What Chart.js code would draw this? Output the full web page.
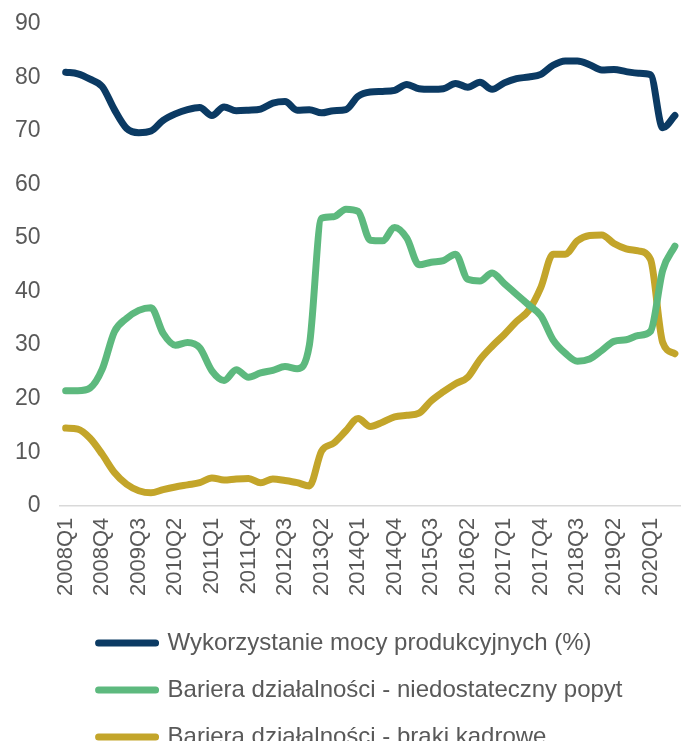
<!DOCTYPE html>
<html>
<head>
<meta charset="utf-8">
<script src="https://cdn.jsdelivr.net/npm/chart.js@4"></script>
<style>
  html, body { margin: 0; padding: 0; background: #fff; }
  #wrap { width: 681px; height: 741px; }
</style>
</head>
<body>
<div id="wrap"><canvas id="my-chart"></canvas></div>
<script>
const quarters = [
  '2008Q1','2008Q2','2008Q3','2008Q4','2009Q1','2009Q2','2009Q3','2009Q4',
  '2010Q1','2010Q2','2010Q3','2010Q4','2011Q1','2011Q2','2011Q3','2011Q4',
  '2012Q1','2012Q2','2012Q3','2012Q4','2013Q1','2013Q2','2013Q3','2013Q4',
  '2014Q1','2014Q2','2014Q3','2014Q4','2015Q1','2015Q2','2015Q3','2015Q4',
  '2016Q1','2016Q2','2016Q3','2016Q4','2017Q1','2017Q2','2017Q3','2017Q4',
  '2018Q1','2018Q2','2018Q3','2018Q4','2019Q1','2019Q2','2019Q3','2019Q4',
  '2020Q1','2020Q2','2020Q3'
];

// capacity utilisation (%)
const capacity = [
  81.0, 80.7, 79.7, 78.3, 74.0, 70.5, 69.7, 70.0,
  72.0, 73.2, 74.0, 74.4, 72.9, 74.5, 73.8, 73.9,
  74.1, 75.2, 75.5, 73.9, 74.0, 73.4, 73.8, 74.0,
  76.5, 77.3, 77.4, 77.6, 78.7, 77.9, 77.8, 77.9,
  78.9, 78.2, 79.1, 77.8, 79.0, 79.8, 80.1, 80.6,
  82.3, 83.1, 83.1, 82.4, 81.4, 81.5, 81.1, 80.8,
  80.5, 70.6, 72.9
];

// barrier: insufficient demand
const lowDemand = [
  21.5, 21.5, 22.0, 25.5, 32.5, 35.0, 36.5, 37.0,
  32.2, 30.0, 30.5, 29.5, 25.2, 23.4, 25.4, 24.0,
  24.8, 25.3, 26.0, 25.6, 30.0, 53.7, 54.0, 55.4,
  55.0, 49.6, 49.5, 52.0, 50.0, 45.0, 45.5, 45.8,
  47.0, 42.3, 42.0, 43.5, 41.5, 39.5, 37.5, 35.5,
  31.0, 28.5, 27.0, 27.4, 29.0, 30.7, 31.0, 31.8,
  32.6, 44.0, 48.5
];

// barrier: staff shortages
const staffShortage = [
  14.5, 14.3, 12.6, 9.6, 6.2, 4.0, 2.8, 2.4,
  3.0, 3.5, 3.9, 4.3, 5.2, 4.8, 5.0, 5.1,
  4.3, 5.0, 4.7, 4.3, 3.7, 10.2, 11.7, 14.0,
  16.3, 14.8, 15.6, 16.6, 16.9, 17.3, 19.6, 21.3,
  22.8, 24.0, 27.3, 29.8, 32.0, 34.4, 36.5, 40.8,
  47.0, 47.0, 49.5, 50.5, 50.6, 49.0, 48.0, 47.6,
  46.0, 30.5, 28.4
];

const seriesNames = [
  'Wykorzystanie mocy produkcyjnych (%)',
  'Bariera działalności - niedostateczny popyt',
  'Bariera działalności - braki kadrowe'
];
const seriesColors = ['#0B3A63', '#5DB97E', '#C3A52A'];

// nudge legend rows to the right, like the original
const legendShift = {
  id: 'legendShift',
  afterLayout(chart) {
    chart.legend.left += 16;
    chart.legend.right += 16;
  }
};

let ctx = document.querySelector('#my-chart').getContext('2d');
let myChart = new Chart(ctx, {
  type: 'line',
  data: {
    labels: quarters,
    datasets: [capacity, lowDemand, staffShortage].map((values, i) => ({
      label: seriesNames[i],
      data: values,
      borderColor: seriesColors[i],
      backgroundColor: seriesColors[i]
    }))
  },
  options: {
    responsive: true,
    maintainAspectRatio: false,
    animation: false,
    layout: { padding: { left: -4, top: 24, right: 0, bottom: -18 } },
    elements: {
      point: { radius: 0 },
      line: {
        borderWidth: 7,
        borderCapStyle: 'round',
        borderJoinStyle: 'round',
        cubicInterpolationMode: 'monotone'
      }
    },
    scales: {
      x: {
        offset: true,
        grid: { display: false, drawTicks: false },
        border: { color: '#d9d9d9', width: 1.5 },
        afterFit: function(scale) {
          scale.paddingLeft = 0;
          scale.paddingRight = 0;
        },
        ticks: {
          autoSkip: false,
          minRotation: 90,
          maxRotation: 90,
          padding: 12,
          color: '#595959',
          font: { family: 'Liberation Sans', size: 22 },
          callback: function(value, index) {
            return index % 3 === 0 ? this.getLabelForValue(value) : '';
          }
        }
      },
      y: {
        min: 0,
        max: 90,
        grid: { display: false, drawTicks: false },
        border: { display: false },
        afterFit: function(scale) {
          scale.paddingTop = 0;
          scale.paddingBottom = 0;
        },
        ticks: {
          stepSize: 10,
          padding: 19,
          color: '#595959',
          font: { family: 'Liberation Sans', size: 23 }
        }
      }
    },
    plugins: {
      legend: {
        position: 'bottom',
        align: 'start',
        fullSize: false,
        labels: {
          boxWidth: 57,
          boxHeight: 0,
          padding: 23,
          color: '#595959',
          font: { family: 'Liberation Sans', size: 24 }
        }
      },
      tooltip: { enabled: false }
    }
  },
  plugins: [legendShift]
});
</script>
</body>
</html>
